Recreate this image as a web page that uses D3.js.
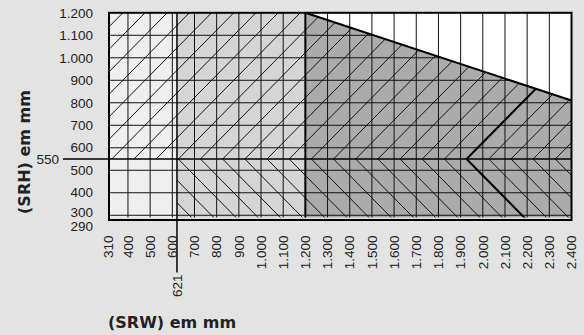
<!DOCTYPE html>
<html><head><meta charset="utf-8">
<script src="https://cdn.jsdelivr.net/npm/d3@7"></script>
<style>
body{margin:0;background:#e3e3e3;}
svg{display:block;}
text{font-family:"Liberation Sans",Arial,sans-serif;fill:#222;}
</style></head><body>
<svg width="584" height="335"></svg>
<script>
const xTicks = [310,400,500,600,700,800,900,1000,1100,1200,1300,1400,1500,1600,1700,1800,1900,2000,2100,2200,2300,2400]
const yTicks = [290,300,400,500,600,700,800,900,1000,1100,1200]
const slopeW = [1200, 2400]
const slopeH = [1200, 810]
const refH = 550
const refW = 621
const boldVertex = 1927
const hatchStart = 27   // hatch lines cross the 550 line at 27 + n*100

const svg = d3.select('svg')
const x = d3.scaleLinear().domain([310, 2400]).range([108, 571.5])
const y = d3.scaleLinear().domain([290, 1200]).range([217.5, 12.8])
const fmt = d3.formatLocale({decimal: ',', thousands: '.', grouping: [3], currency: ['', '']}).format(',')

const pts = arr => arr.map(p => [x(p[0]), y(p[1])].join(',')).join(' ')

const x0 = 310, x1 = 2400, y0 = 290, y1 = 1200

// clip areas
const defs = svg.append('defs')
function clip(id, poly){
  defs.append('clipPath').attr('id', id).append('polygon').attr('points', pts(poly))
}
clip('shaded', [[x0,y0],[x0,y1],[slopeW[0],slopeH[0]],[slopeW[1],slopeH[1]],[x1,y0]])
clip('upper', [[x0,refH],[x0,y1],[slopeW[0],slopeH[0]],[slopeW[1],slopeH[1]],[x1,refH]])
clip('lower', [[refW,y0],[refW,refH],[x1,refH],[x1,y0]])

// zones
svg.append('polygon').attr('points', pts([[x0,y0],[x0,y1],[refW,y1],[refW,y0]])).attr('fill', '#efefef')
svg.append('polygon').attr('points', pts([[refW,y0],[refW,y1],[slopeW[0],y1],[slopeW[0],y0]])).attr('fill', '#d5d5d5')
svg.append('polygon').attr('points', pts([[slopeW[0],y0],[slopeW[0],slopeH[0]],[slopeW[1],slopeH[1]],[x1,y0]])).attr('fill', '#ababab')
svg.append('polygon').attr('points', pts([[slopeW[0],y1],[x1,y1],[slopeW[1],slopeH[1]]])).attr('fill', '#fff')

// grid
svg.append('g').attr('clip-path', 'url(#shaded)')
  .selectAll('line').data(yTicks.filter(d => d > y0 && d < y1)).enter().append('line')
    .attr('x1', x(x0)).attr('x2', x(x1))
    .attr('y1', d => y(d)).attr('y2', d => y(d))
    .attr('stroke', '#111').attr('stroke-width', 1)

svg.append('g')
  .selectAll('line').data(xTicks.filter(d => d > 310 && d < x1)).enter().append('line')
    .attr('x1', d => x(d)).attr('x2', d => x(d))
    .attr('y1', y(y0)).attr('y2', y(y1))
    .attr('stroke', '#111').attr('stroke-width', 1)

// hatching
const vertices = d3.range(hatchStart - 400, x1, 100)
svg.append('g').attr('clip-path', 'url(#upper)')
  .selectAll('line').data(vertices).enter().append('line')
    .attr('x1', d => x(d)).attr('y1', y(refH))
    .attr('x2', d => x(d + 700)).attr('y2', y(refH + 700))
    .attr('stroke', '#111').attr('stroke-width', 1)

svg.append('g').attr('clip-path', 'url(#lower)')
  .selectAll('line').data(vertices.filter(d => d > refW - 300)).enter().append('line')
    .attr('x1', d => x(d)).attr('y1', y(refH))
    .attr('x2', d => x(d + 300)).attr('y2', y(refH - 300))
    .attr('stroke', '#111').attr('stroke-width', 1)

// bold chevron
svg.append('line').attr('clip-path', 'url(#upper)')
  .attr('x1', x(boldVertex)).attr('y1', y(refH))
  .attr('x2', x(boldVertex + 700)).attr('y2', y(refH + 700))
  .attr('stroke', '#000').attr('stroke-width', 2)
svg.append('line').attr('clip-path', 'url(#lower)')
  .attr('x1', x(boldVertex)).attr('y1', y(refH))
  .attr('x2', x(boldVertex + 300)).attr('y2', y(refH - 300))
  .attr('stroke', '#000').attr('stroke-width', 2)

// heavy lines
svg.append('line')
  .attr('x1', x(slopeW[0])).attr('y1', y(slopeH[0]))
  .attr('x2', x(slopeW[1])).attr('y2', y(slopeH[1]))
  .attr('stroke', '#000').attr('stroke-width', 2)
svg.append('line')
  .attr('x1', x(slopeW[0])).attr('x2', x(slopeW[0]))
  .attr('y1', y(y0)).attr('y2', y(y1))
  .attr('stroke', '#000').attr('stroke-width', 2)
svg.append('line')
  .attr('x1', x(refW)).attr('x2', x(refW))
  .attr('y1', y(y1)).attr('y2', y(y0) + 55)
  .attr('stroke', '#000').attr('stroke-width', 1.5)
svg.append('line')
  .attr('x1', 63).attr('x2', x(x1))
  .attr('y1', y(refH)).attr('y2', y(refH))
  .attr('stroke', '#000').attr('stroke-width', 1.5)

// frame
svg.append('rect')
  .attr('x', x(x0) + 1).attr('y', y(y1))
  .attr('width', x(x1) - x(x0) - 1).attr('height', y(y0) - y(y1) + 2.5)
  .attr('fill', 'none').attr('stroke', '#000').attr('stroke-width', 2)

// y tick labels (290 sits just under 300, pushed apart a little)
svg.append('g').selectAll('text').data(yTicks).enter().append('text')
  .attr('x', 93)
  .attr('y', d => y(d) + (d === 290 ? 9 : d === 300 ? -2.5 : 0))
  .attr('dy', '0.35em')
  .attr('text-anchor', 'end')
  .style('font-size', '13.5px')
  .text(d => fmt(d))

svg.append('text')
  .attr('x', 59).attr('y', y(refH)).attr('dy', '0.35em')
  .attr('text-anchor', 'end').style('font-size', '13.5px')
  .text(refH)

// x tick labels
svg.append('g').selectAll('text').data(xTicks).enter().append('text')
  .attr('transform', d => `translate(${x(d)},${y(y0) + 18}) rotate(-90)`)
  .attr('dy', '0.35em')
  .attr('text-anchor', 'end')
  .style('font-size', '13.5px')
  .text(d => fmt(d))

svg.append('text')
  .attr('transform', `translate(${x(refW)},${y(y0) + 57}) rotate(-90)`)
  .attr('dy', '0.35em')
  .attr('text-anchor', 'end')
  .style('font-size', '13.5px')
  .text(refW)

// axis titles
svg.append('text')
  .attr('x', 108).attr('y', 328)
  .style('font-family', '"DejaVu Sans", sans-serif')
  .style('font-weight', 'bold').style('font-size', '16px')
  .text('(SRW) em mm')

svg.append('text')
  .attr('transform', 'translate(30,152) rotate(-90)')
  .attr('text-anchor', 'middle')
  .style('font-family', '"DejaVu Sans", sans-serif')
  .style('font-weight', 'bold').style('font-size', '16px')
  .text('(SRH) em mm')
</script>
</body></html>
